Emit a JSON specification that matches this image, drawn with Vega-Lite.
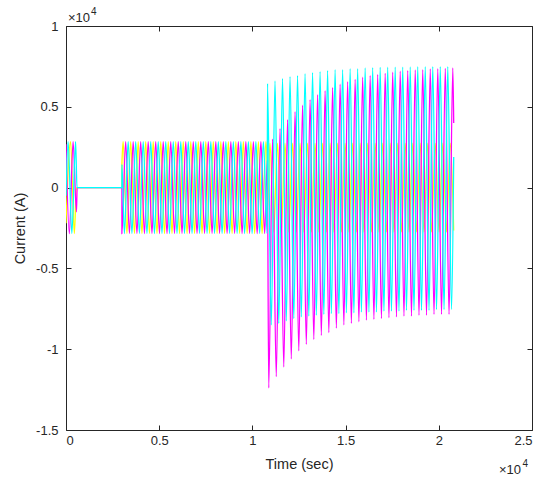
{
  "$schema": "https://vega.github.io/schema/vega-lite/v6.json",
  "width": 466,
  "height": 404,
  "autosize": "none",
  "padding": {"left": 66, "top": 26, "right": 17, "bottom": 51},
  "background": "white",
  "config": {"view": {"stroke": "#262626", "strokeWidth": 1}, "font": "Liberation Sans"},
  "datasets": {
    "cur": [
      {"p":"a","t":0,"i":-2200},{"p":"a","t":246,"i":2850},{"p":"a","t":447,"i":-2850},{"p":"a","t":560,"i":0},{"p":"a","t":2999,"i":0},{"p":"a","t":3000,"i":1425},
      {"p":"a","t":3067,"i":2850},{"p":"a","t":3269,"i":-2850},{"p":"a","t":3470,"i":2850},{"p":"a","t":3672,"i":-2850},{"p":"a","t":3873,"i":2850},{"p":"a","t":4075,"i":-2850},{"p":"a","t":4276,"i":2850},{"p":"a","t":4478,"i":-2850},{"p":"a","t":4679,"i":2850},{"p":"a","t":4881,"i":-2850},{"p":"a","t":5082,"i":2850},{"p":"a","t":5284,"i":-2850},{"p":"a","t":5485,"i":2850},{"p":"a","t":5687,"i":-2850},{"p":"a","t":5888,"i":2850},{"p":"a","t":6090,"i":-2850},{"p":"a","t":6291,"i":2850},{"p":"a","t":6493,"i":-2850},{"p":"a","t":6694,"i":2850},{"p":"a","t":6896,"i":-2850},{"p":"a","t":7097,"i":2850},{"p":"a","t":7299,"i":-2850},{"p":"a","t":7500,"i":2850},{"p":"a","t":7702,"i":-2850},{"p":"a","t":7903,"i":2850},{"p":"a","t":8105,"i":-2850},{"p":"a","t":8306,"i":2850},{"p":"a","t":8508,"i":-2850},{"p":"a","t":8709,"i":2850},{"p":"a","t":8911,"i":-2850},{"p":"a","t":9112,"i":2850},{"p":"a","t":9314,"i":-2850},{"p":"a","t":9515,"i":2850},{"p":"a","t":9717,"i":-2850},{"p":"a","t":9918,"i":2850},{"p":"a","t":10120,"i":-2850},{"p":"a","t":10321,"i":2850},{"p":"a","t":10523,"i":-2850},{"p":"a","t":10724,"i":2850},{"p":"a","t":10800,"i":1070},
      {"p":"a","t":10810,"i":-1360},{"p":"a","t":10944,"i":2750},{"p":"a","t":11146,"i":-2750},{"p":"a","t":11347,"i":2750},{"p":"a","t":11549,"i":-2750},{"p":"a","t":11750,"i":2750},{"p":"a","t":11952,"i":-2750},{"p":"a","t":12153,"i":2750},{"p":"a","t":12355,"i":-2750},{"p":"a","t":12556,"i":2750},{"p":"a","t":12758,"i":-2750},{"p":"a","t":12959,"i":2750},{"p":"a","t":13161,"i":-2750},{"p":"a","t":13362,"i":2750},{"p":"a","t":13564,"i":-2750},{"p":"a","t":13765,"i":2750},{"p":"a","t":13967,"i":-2750},{"p":"a","t":14168,"i":2750},{"p":"a","t":14370,"i":-2750},{"p":"a","t":14571,"i":2750},{"p":"a","t":14773,"i":-2750},{"p":"a","t":14974,"i":2750},{"p":"a","t":15176,"i":-2750},{"p":"a","t":15377,"i":2750},{"p":"a","t":15579,"i":-2750},{"p":"a","t":15780,"i":2750},{"p":"a","t":15982,"i":-2750},{"p":"a","t":16183,"i":2750},{"p":"a","t":16385,"i":-2750},{"p":"a","t":16586,"i":2750},{"p":"a","t":16788,"i":-2750},{"p":"a","t":16989,"i":2750},{"p":"a","t":17191,"i":-2750},{"p":"a","t":17392,"i":2750},{"p":"a","t":17594,"i":-2750},{"p":"a","t":17795,"i":2750},{"p":"a","t":17997,"i":-2750},{"p":"a","t":18198,"i":2750},{"p":"a","t":18400,"i":-2750},{"p":"a","t":18601,"i":2750},{"p":"a","t":18803,"i":-2750},{"p":"a","t":19004,"i":2750},{"p":"a","t":19206,"i":-2750},{"p":"a","t":19407,"i":2750},{"p":"a","t":19609,"i":-2750},{"p":"a","t":19810,"i":2750},{"p":"a","t":20012,"i":-2750},{"p":"a","t":20213,"i":2750},{"p":"a","t":20415,"i":-2750},{"p":"a","t":20616,"i":2750},{"p":"a","t":20800,"i":-2660},

      {"p":"b","t":0,"i":2680},{"p":"b","t":179,"i":-2850},{"p":"b","t":380,"i":2850},{"p":"b","t":560,"i":-1500},{"p":"b","t":600,"i":0},{"p":"b","t":2999,"i":0},{"p":"b","t":3000,"i":-2850},
      {"p":"b","t":3201,"i":2850},{"p":"b","t":3403,"i":-2850},{"p":"b","t":3604,"i":2850},{"p":"b","t":3806,"i":-2850},{"p":"b","t":4007,"i":2850},{"p":"b","t":4209,"i":-2850},{"p":"b","t":4410,"i":2850},{"p":"b","t":4612,"i":-2850},{"p":"b","t":4813,"i":2850},{"p":"b","t":5015,"i":-2850},{"p":"b","t":5216,"i":2850},{"p":"b","t":5418,"i":-2850},{"p":"b","t":5619,"i":2850},{"p":"b","t":5821,"i":-2850},{"p":"b","t":6022,"i":2850},{"p":"b","t":6224,"i":-2850},{"p":"b","t":6425,"i":2850},{"p":"b","t":6627,"i":-2850},{"p":"b","t":6828,"i":2850},{"p":"b","t":7030,"i":-2850},{"p":"b","t":7231,"i":2850},{"p":"b","t":7433,"i":-2850},{"p":"b","t":7634,"i":2850},{"p":"b","t":7836,"i":-2850},{"p":"b","t":8037,"i":2850},{"p":"b","t":8239,"i":-2850},{"p":"b","t":8440,"i":2850},{"p":"b","t":8642,"i":-2850},{"p":"b","t":8843,"i":2850},{"p":"b","t":9045,"i":-2850},{"p":"b","t":9246,"i":2850},{"p":"b","t":9448,"i":-2850},{"p":"b","t":9649,"i":2850},{"p":"b","t":9851,"i":-2850},{"p":"b","t":10052,"i":2850},{"p":"b","t":10254,"i":-2850},{"p":"b","t":10455,"i":2850},{"p":"b","t":10657,"i":-2850},{"p":"b","t":10800,"i":1700},
      {"p":"b","t":10877,"i":-12400},{"p":"b","t":11079,"i":3000},{"p":"b","t":11280,"i":-11700},{"p":"b","t":11482,"i":3650},{"p":"b","t":11683,"i":-11100},{"p":"b","t":11885,"i":4200},{"p":"b","t":12086,"i":-10600},{"p":"b","t":12288,"i":4700},{"p":"b","t":12489,"i":-10100},{"p":"b","t":12691,"i":5100},{"p":"b","t":12892,"i":-9700},{"p":"b","t":13094,"i":5450},{"p":"b","t":13295,"i":-9400},{"p":"b","t":13497,"i":5750},{"p":"b","t":13698,"i":-9150},{"p":"b","t":13900,"i":6000},{"p":"b","t":14101,"i":-8970},{"p":"b","t":14303,"i":6200},{"p":"b","t":14504,"i":-8700},{"p":"b","t":14706,"i":6400},{"p":"b","t":14907,"i":-8500},{"p":"b","t":15109,"i":6550},{"p":"b","t":15310,"i":-8400},{"p":"b","t":15512,"i":6700},{"p":"b","t":15713,"i":-8300},{"p":"b","t":15915,"i":6830},{"p":"b","t":16116,"i":-8200},{"p":"b","t":16318,"i":6930},{"p":"b","t":16519,"i":-8150},{"p":"b","t":16721,"i":7000},{"p":"b","t":16922,"i":-8100},{"p":"b","t":17124,"i":7070},{"p":"b","t":17325,"i":-8050},{"p":"b","t":17527,"i":7140},{"p":"b","t":17728,"i":-8000},{"p":"b","t":17930,"i":7200},{"p":"b","t":18131,"i":-7950},{"p":"b","t":18333,"i":7240},{"p":"b","t":18534,"i":-7950},{"p":"b","t":18736,"i":7280},{"p":"b","t":18937,"i":-7900},{"p":"b","t":19139,"i":7300},{"p":"b","t":19340,"i":-7900},{"p":"b","t":19542,"i":7350},{"p":"b","t":19743,"i":-7850},{"p":"b","t":19945,"i":7360},{"p":"b","t":20146,"i":-7850},{"p":"b","t":20348,"i":7380},{"p":"b","t":20549,"i":-7850},{"p":"b","t":20751,"i":7400},{"p":"b","t":20800,"i":4000},

      {"p":"c","t":0,"i":-500},{"p":"c","t":112,"i":2850},{"p":"c","t":314,"i":-2850},{"p":"c","t":515,"i":2850},{"p":"c","t":590,"i":0},{"p":"c","t":2999,"i":0},{"p":"c","t":3000,"i":1425},
      {"p":"c","t":3134,"i":-2850},{"p":"c","t":3336,"i":2850},{"p":"c","t":3537,"i":-2850},{"p":"c","t":3739,"i":2850},{"p":"c","t":3940,"i":-2850},{"p":"c","t":4142,"i":2850},{"p":"c","t":4343,"i":-2850},{"p":"c","t":4545,"i":2850},{"p":"c","t":4746,"i":-2850},{"p":"c","t":4948,"i":2850},{"p":"c","t":5149,"i":-2850},{"p":"c","t":5351,"i":2850},{"p":"c","t":5552,"i":-2850},{"p":"c","t":5754,"i":2850},{"p":"c","t":5955,"i":-2850},{"p":"c","t":6157,"i":2850},{"p":"c","t":6358,"i":-2850},{"p":"c","t":6560,"i":2850},{"p":"c","t":6761,"i":-2850},{"p":"c","t":6963,"i":2850},{"p":"c","t":7164,"i":-2850},{"p":"c","t":7366,"i":2850},{"p":"c","t":7567,"i":-2850},{"p":"c","t":7769,"i":2850},{"p":"c","t":7970,"i":-2850},{"p":"c","t":8172,"i":2850},{"p":"c","t":8373,"i":-2850},{"p":"c","t":8575,"i":2850},{"p":"c","t":8776,"i":-2850},{"p":"c","t":8978,"i":2850},{"p":"c","t":9179,"i":-2850},{"p":"c","t":9381,"i":2850},{"p":"c","t":9582,"i":-2850},{"p":"c","t":9784,"i":2850},{"p":"c","t":9985,"i":-2850},{"p":"c","t":10187,"i":2850},{"p":"c","t":10388,"i":-2850},{"p":"c","t":10590,"i":2850},{"p":"c","t":10791,"i":-2850},
      {"p":"c","t":10810,"i":6440},{"p":"c","t":11012,"i":-8500},{"p":"c","t":11213,"i":6600},{"p":"c","t":11415,"i":-8400},{"p":"c","t":11616,"i":6750},{"p":"c","t":11818,"i":-8250},{"p":"c","t":12019,"i":6870},{"p":"c","t":12221,"i":-8100},{"p":"c","t":12422,"i":6930},{"p":"c","t":12624,"i":-8000},{"p":"c","t":12825,"i":7050},{"p":"c","t":13027,"i":-7950},{"p":"c","t":13228,"i":7120},{"p":"c","t":13430,"i":-7900},{"p":"c","t":13631,"i":7180},{"p":"c","t":13833,"i":-7850},{"p":"c","t":14034,"i":7240},{"p":"c","t":14236,"i":-7800},{"p":"c","t":14437,"i":7300},{"p":"c","t":14639,"i":-7800},{"p":"c","t":14840,"i":7300},{"p":"c","t":15042,"i":-7750},{"p":"c","t":15243,"i":7360},{"p":"c","t":15445,"i":-7750},{"p":"c","t":15646,"i":7360},{"p":"c","t":15848,"i":-7700},{"p":"c","t":16049,"i":7400},{"p":"c","t":16251,"i":-7700},{"p":"c","t":16452,"i":7430},{"p":"c","t":16654,"i":-7700},{"p":"c","t":16855,"i":7440},{"p":"c","t":17057,"i":-7650},{"p":"c","t":17258,"i":7450},{"p":"c","t":17460,"i":-7650},{"p":"c","t":17661,"i":7460},{"p":"c","t":17863,"i":-7650},{"p":"c","t":18064,"i":7460},{"p":"c","t":18266,"i":-7600},{"p":"c","t":18467,"i":7470},{"p":"c","t":18669,"i":-7600},{"p":"c","t":18870,"i":7480},{"p":"c","t":19072,"i":-7600},{"p":"c","t":19273,"i":7480},{"p":"c","t":19475,"i":-7600},{"p":"c","t":19676,"i":7490},{"p":"c","t":19878,"i":-7550},{"p":"c","t":20079,"i":7490},{"p":"c","t":20281,"i":-7550},{"p":"c","t":20482,"i":7490},{"p":"c","t":20684,"i":-7550},{"p":"c","t":20800,"i":1900}
    ],
    "ticks": [{"t": 0, "i": 0}],
    "expy": [{"t": 0, "i": 10000, "s": "×10", "e": "4"}],
    "expx": [{"t": 25000, "i": -15000, "s": "×10", "e": "4"}]
  },
  "layer": [
    {
      "data": {"name": "cur"},
      "mark": {"type": "line", "interpolate": "monotone", "strokeWidth": 1.3, "clip": true},
      "encoding": {
        "x": {
          "field": "t", "type": "quantitative",
          "scale": {"domain": [0, 25000], "nice": false, "zero": false},
          "axis": {
            "orient": "bottom", "values": [0, 5000, 10000, 15000, 20000, 25000],
            "labelExpr": "(datum.value < 0 ? '-' : '') + format(abs(datum.value) / 10000, '~g')",
            "title": "Time (sec)", "titleFontSize": 14.5, "titleFontWeight": "normal", "titleColor": "#262626",
            "labelFontSize": 13, "labelColor": "#262626", "tickColor": "#262626", "tickSize": -5,
            "domain": false, "grid": false, "labelPadding": 9, "titlePadding": 10
          }
        },
        "y": {
          "field": "i", "type": "quantitative",
          "scale": {"domain": [-15000, 10000], "nice": false, "zero": false},
          "axis": {
            "orient": "left", "values": [-15000, -10000, -5000, 0, 5000, 10000],
            "labelExpr": "(datum.value < 0 ? '-' : '') + format(abs(datum.value) / 10000, '~g')",
            "title": "Current (A)", "titleFontSize": 14.5, "titleFontWeight": "normal", "titleColor": "#262626",
            "labelFontSize": 13, "labelColor": "#262626", "tickColor": "#262626", "tickSize": -5,
            "domain": false, "grid": false, "labelPadding": 13, "titlePadding": 8
          }
        },
        "color": {
          "field": "p", "type": "nominal",
          "scale": {"domain": ["a", "b", "c"], "range": ["#FFFF00", "#FF00FF", "#00FFFF"]},
          "legend": null
        }
      }
    },
    {
      "data": {"name": "ticks"},
      "mark": {"type": "point", "opacity": 0},
      "encoding": {
        "x": {
          "field": "t", "type": "quantitative",
          "axis": {"orient": "top", "values": [0, 5000, 10000, 15000, 20000, 25000], "labels": false, "title": null,
                   "tickColor": "#262626", "tickSize": -5, "domain": false, "grid": false}
        },
        "y": {
          "field": "i", "type": "quantitative",
          "axis": {"orient": "right", "values": [-15000, -10000, -5000, 0, 5000, 10000], "labels": false, "title": null,
                   "tickColor": "#262626", "tickSize": -5, "domain": false, "grid": false}
        }
      }
    },
    {
      "data": {"name": "expy"},
      "mark": {"type": "text", "align": "left", "baseline": "alphabetic", "dx": 2, "dy": -4, "fontSize": 13, "color": "#262626"},
      "encoding": {
        "x": {"field": "t", "type": "quantitative", "axis": null},
        "y": {"field": "i", "type": "quantitative", "axis": null},
        "text": {"field": "s"}
      }
    },
    {
      "data": {"name": "expy"},
      "mark": {"type": "text", "align": "left", "baseline": "alphabetic", "dx": 25, "dy": -11, "fontSize": 10, "color": "#262626"},
      "encoding": {
        "x": {"field": "t", "type": "quantitative", "axis": null},
        "y": {"field": "i", "type": "quantitative", "axis": null},
        "text": {"field": "e"}
      }
    },
    {
      "data": {"name": "expx"},
      "mark": {"type": "text", "align": "right", "baseline": "alphabetic", "dx": -11, "dy": 44, "fontSize": 13, "color": "#262626"},
      "encoding": {
        "x": {"field": "t", "type": "quantitative", "axis": null},
        "y": {"field": "i", "type": "quantitative", "axis": null},
        "text": {"field": "s"}
      }
    },
    {
      "data": {"name": "expx"},
      "mark": {"type": "text", "align": "right", "baseline": "alphabetic", "dx": -4, "dy": 37, "fontSize": 10, "color": "#262626"},
      "encoding": {
        "x": {"field": "t", "type": "quantitative", "axis": null},
        "y": {"field": "i", "type": "quantitative", "axis": null},
        "text": {"field": "e"}
      }
    }
  ],
  "resolve": {"axis": {"x": "independent", "y": "independent"}}
}
